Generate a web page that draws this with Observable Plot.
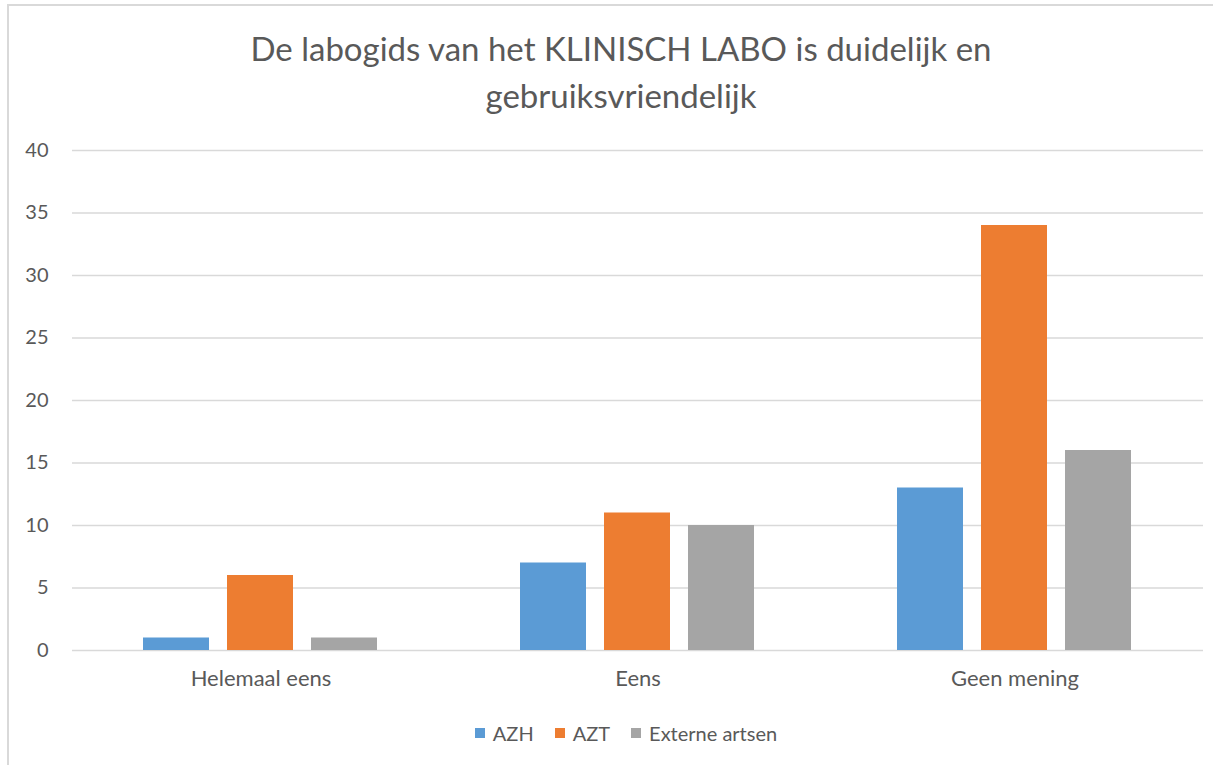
<!DOCTYPE html>
<html><head><meta charset="utf-8">
<script src="https://cdn.jsdelivr.net/npm/d3@7"></script>
<script src="https://cdn.jsdelivr.net/npm/@observablehq/plot@0.6"></script>
<style>
html,body{margin:0;padding:0;background:#fff;}
body{width:1213px;height:765px;position:relative;overflow:hidden;font-family:Lato,"Open Sans",sans-serif;}
#frame{position:absolute;left:7px;top:4px;width:1230px;height:800px;border:2px solid #d9d9d9;box-sizing:border-box;}
#title{position:absolute;left:0;top:25px;width:1242px;text-align:center;color:#595959;font-size:33px;line-height:47px;}
#chart{position:absolute;left:0;top:130px;}
#legend{position:absolute;left:0;top:721px;width:1252px;display:flex;justify-content:center;gap:21px;color:#595959;font-size:20px;line-height:24px;}
#legend .it{display:flex;align-items:center;gap:8px;}
#legend .sw{width:10px;height:10px;display:inline-block;}
</style></head>
<body>
<div id="frame"></div>
<div id="title">De labogids van het KLINISCH LABO is duidelijk en<br>gebruiksvriendelijk</div>
<div id="chart"></div>
<div id="legend"></div>
<script>
const categories = ["Helemaal eens", "Eens", "Geen mening"];
const series = ["AZH", "AZT", "Externe artsen"];
const colors = ["#5B9BD5", "#ED7D31", "#A5A5A5"];
const valuesAZH = [1, 7, 13];
const valuesAZT = [6, 11, 34];
const valuesExterne = [1, 10, 16];
const yTicks = [0, 5, 10, 15, 20, 25, 30, 35, 40];

const seriesValues = [valuesAZH, valuesAZT, valuesExterne];
const data = [];
categories.forEach((c, i) => series.forEach((s, j) => data.push({category: c, series: s, value: seriesValues[j][i]})));

const chart = Plot.plot({
  width: 1213,
  height: 600,
  marginLeft: 72,
  marginRight: 10,
  marginTop: 20,
  marginBottom: 80,
  style: {fontFamily: "Lato, 'Open Sans', sans-serif", color: "#595959", background: "transparent"},
  fx: {domain: categories, padding: 0, label: null, axis: null},
  x: {domain: series, paddingInner: 0.214, paddingOuter: 0.851, axis: null},
  y: {domain: [0, 40], ticks: yTicks, label: null, axis: null},
  color: {domain: series, range: colors},
  marks: [
    Plot.ruleY(yTicks, {y: d => d, stroke: "#d9d9d9", strokeWidth: 1.3}),
    Plot.barY(data, {fx: "category", x: "series", y: "value", fill: "series"}),
    Plot.axisY(yTicks, {anchor: "left", tickSize: 0, tickPadding: 24, fontSize: 20, fill: "#595959", label: null, facetAnchor: "left"}),
    Plot.axisFx({anchor: "bottom", tickSize: 0, tickPadding: 20, fontSize: 22, fill: "#595959", label: null})
  ]
});
document.getElementById("chart").appendChild(chart);

const lg = document.getElementById("legend");
series.forEach((s, j) => {
  const it = document.createElement("span");
  it.className = "it";
  const sw = document.createElement("span");
  sw.className = "sw";
  sw.style.background = colors[j];
  it.appendChild(sw);
  it.appendChild(document.createTextNode(s));
  lg.appendChild(it);
});
</script>
</body></html>
